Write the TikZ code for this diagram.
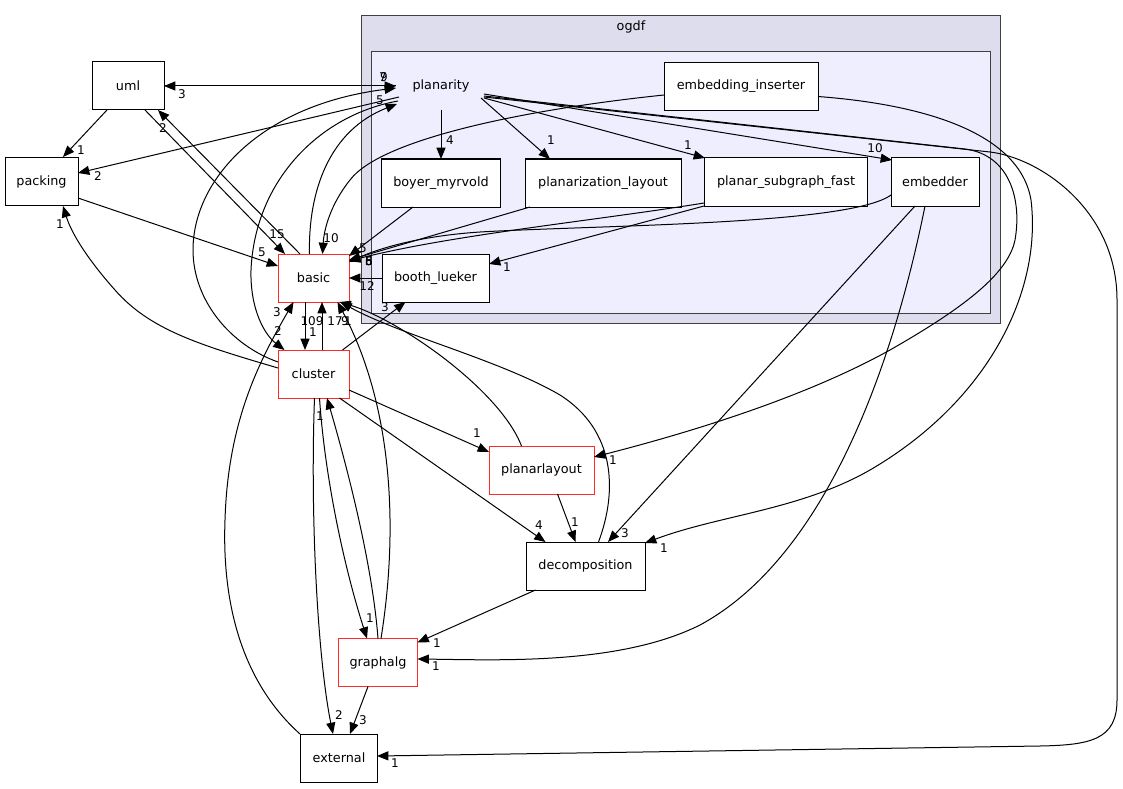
\documentclass[tikz,border=0pt]{standalone}
\usepackage{fontspec}
\setmainfont{DejaVu Sans}
\usetikzlibrary{arrows.meta, calc}
\definecolor{ogdfbg}{HTML}{DDDDEE}
\definecolor{planbg}{HTML}{EEEEFF}
\definecolor{frame}{HTML}{404040}
\definecolor{hotdir}{HTML}{FF2A2A}

\begin{document}
\begin{tikzpicture}[
  x=0.75pt, y=-0.75pt,
  >={Triangle[length=8.5pt, width=6.8pt]},
  every node/.style={font=\fontsize{9.6}{11}\selectfont},
  dirbox/.style={draw=black, fill=white, line width=0.75pt, inner sep=0pt,
                 minimum width=#1*0.75pt, minimum height=36pt},
  hotbox/.style={dirbox=#1, draw=hotdir},
  dep/.style={->, line width=0.75pt, color=black},
  cnt/.style={inner sep=0pt, font=\fontsize{9}{10}\selectfont}
]
  \useasboundingbox (0,0) rectangle (1123,788);

  % directory frames
  \draw[frame, fill=ogdfbg, line width=0.75pt] (361,16) rectangle (1000,323);
  \node (ogdf) at (631,27) {ogdf};
  \draw[frame, fill=planbg, line width=0.75pt] (371,52) rectangle (990,313);

  \node[minimum width=64.5pt, minimum height=36pt] (planarity) at (441,86) {planarity};
  \node[dirbox=154] (embins) at (741,86.5) {embedding\_inserter};
  \node[dirbox=119] (boyer) at (441,183) {boyer\_myrvold};
  \node[dirbox=156] (planz) at (603,183) {planarization\_layout};
  \node[dirbox=163] (psf) at (786,182) {planar\_subgraph\_fast};
  \node[dirbox=88] (embedder) at (935,182) {embedder};
  \node[dirbox=107] (booth) at (435.5,278) {booth\_lueker};

  \node[dirbox=72] (uml) at (128,86) {uml};
  \node[dirbox=73] (packing) at (41.5,181.5) {packing};
  \node[hotbox=71] (basic) at (313.5,278) {basic};
  \node[hotbox=71] (cluster) at (313.5,374) {cluster};
  \node[hotbox=105] (planarlayout) at (541.5,470) {planarlayout};
  \node[dirbox=119] (decomp) at (585.5,566) {decomposition};
  \node[hotbox=79] (graphalg) at (378,662.5) {graphalg};
  \node[dirbox=77] (external) at (339,758) {external};

  % uml, packing
  \draw[dep] ($(uml)+(-21,24)$) -- ($(packing)+(21.5,-24.5)$) node[cnt] at (81,150) {1};
  \draw[dep] ($(uml)+(17,24)$) -- ($(basic)+(-28.5,-24)$) node[cnt] at (277,234) {15};
  \draw[dep] ($(basic)+(-13.5,-24)$) -- ($(uml)+(30,24)$) node[cnt] at (163,128) {2};
  \draw[dep] ($(planarity)+(-45,0)$) -- ($(uml)+(36,0)$) node[cnt] at (182,94) {3};
  \draw[dep] ($(uml)+(36,0)$) -- ($(planarity)+(-45,0)$) node[cnt] at (383,77) {7};
  \draw[dep] ($(planarity)+(-42,11)$) -- ($(packing)+(36.5,-8.5)$) node[cnt] at (98,176) {2};
  \draw[dep] ($(packing)+(36.5,16.5)$) -- ($(basic)+(-35.5,-12)$) node[cnt] at (262,252) {5};
  \draw[dep] ($(cluster)+(-35.5,-6)$) .. controls (200,345) and (150,330) .. (115,290)
    .. controls (90,262) and (72,235) .. ($(packing)+(21.5,24.5)$) node[cnt] at (60,224) {1};

  % planarity, left side
  \draw[dep] ($(cluster)+(-35.5,-12)$) .. controls (230,345) and (193,300) .. (193,250)
    .. controls (193,180) and (260,105) .. ($(planarity)+(-45,2)$) node[cnt] at (384,77) {9};
  \draw[dep] ($(basic)+(-4,-24)$) .. controls (308,190) and (330,130) .. ($(planarity)+(-44,18)$)
    node[cnt] at (380,100) {5};
  \draw[dep] ($(planarity)+(-43,15)$) .. controls (320,115) and (255,180) .. (251,270)
    .. controls (250,310) and (265,335) .. ($(cluster)+(-29,-24)$) node[cnt] at (278,331) {2};

  % subdirectories
  \draw[dep] ($(planarity)+(0,24)$) -- ($(boyer)+(0,-24)$) node[cnt] at (450,140) {4};
  \draw[dep] ($(planarity)+(40,12)$) -- ($(planz)+(-53,-24)$) node[cnt] at (551,140) {1};
  \draw[dep] ($(planarity)+(43,12)$) -- ($(psf)+(-81,-24)$) node[cnt] at (688,145) {1};
  \draw[dep] ($(planarity)+(43,8)$) -- ($(embedder)+(-43,-22)$) node[cnt] at (875,148) {10};
  \draw[dep] ($(embins)+(-77,8.5)$) .. controls (520,110) and (380,140) .. (350,180)
    .. controls (330,205) and (324,230) .. ($(basic)+(9,-24)$) node[cnt] at (331,238) {10};
  \draw[dep] ($(boyer)+(-28,24)$) -- ($(basic)+(35.5,-22)$) node[cnt] at (363,248) {5};
  \draw[dep] ($(planz)+(-73,24)$) -- ($(basic)+(35.5,-18)$) node[cnt] at (369,261) {6};
  \draw[dep] ($(psf)+(-82,21)$) .. controls (600,220) and (450,235) .. ($(basic)+(35.5,-17)$)
    node[cnt] at (369,261) {8};
  \draw[dep] ($(embedder)+(-44,13)$) .. controls (850,225) and (600,225) .. (480,232)
    .. controls (420,236) and (380,248) .. ($(basic)+(35.5,-16)$) node[cnt] at (369,261) {5};
  \draw[dep] ($(psf)+(-82,24)$) -- ($(booth)+(53.5,-14)$) node[cnt] at (507,267) {1};
  \draw[dep] ($(booth)+(-53.5,0)$) -- ($(basic)+(35.5,0)$) node[cnt] at (367,286) {12};
  \draw[dep] ($(cluster)+(29,-24)$) -- ($(booth)+(-30,24)$) node[cnt] at (385,307) {3};

  % basic and cluster
  \draw[dep] ($(basic)+(-8.5,24)$) -- ($(cluster)+(-8.5,-24)$) node[cnt] at (313,332) {1};
  \draw[dep] ($(cluster)+(8.5,-24)$) -- ($(basic)+(8.5,24)$) node[cnt] at (312,321) {109};
  \draw[dep] ($(graphalg)+(3,-24)$) .. controls (400,520) and (390,400) .. ($(basic)+(24,24)$)
    node[cnt] at (335,321) {17};
  \draw[dep] ($(planarlayout)+(-20,-24)$) .. controls (500,390) and (400,320) .. ($(basic)+(26,24)$)
    node[cnt] at (348,321) {1};
  \draw[dep] ($(decomp)+(13,-24)$) .. controls (618,490) and (615,430) .. (560,395)
    .. controls (500,360) and (400,335) .. ($(basic)+(27,24)$) node[cnt] at (345,321) {9};
  \draw[dep] ($(external)+(-39,-24)$) .. controls (240,680) and (222,600) .. (225,520)
    .. controls (228,420) and (260,360) .. ($(basic)+(-20,24)$) node[cnt] at (277,312) {3};

  % cluster outgoing
  \draw[dep] ($(cluster)+(35.5,16)$) -- ($(planarlayout)+(-52.5,-18)$) node[cnt] at (477,433) {1};
  \draw[dep] ($(cluster)+(26,24)$) -- ($(decomp)+(-40,-24)$) node[cnt] at (539,525) {4};
  \draw[dep] ($(cluster)+(6,24)$) .. controls (325,480) and (345,570) .. ($(graphalg)+(-11,-24)$)
    node[cnt] at (370,618) {1};
  \draw[dep] ($(graphalg)+(0,-24)$) .. controls (372,560) and (345,460) .. ($(cluster)+(13.5,24)$)
    node[cnt] at (320,416) {1};
  \draw[dep] ($(cluster)+(1,24)$) .. controls (310,520) and (318,660) .. ($(external)+(-6,-24)$)
    node[cnt] at (339,715) {2};
  \draw[dep] ($(graphalg)+(-10,24)$) -- ($(external)+(11,-24)$) node[cnt] at (363,720) {3};

  % lower right
  \draw[dep] ($(planarlayout)+(16,24)$) -- ($(decomp)+(-10,-24)$) node[cnt] at (575,522) {1};
  \draw[dep] ($(decomp)+(-50,24)$) -- ($(graphalg)+(39.5,-20)$) node[cnt] at (437,643) {1};
  \draw[dep] ($(embedder)+(-20,24)$) -- ($(decomp)+(22.5,-24)$) node[cnt] at (625,533) {3};
  \draw[dep] ($(embedder)+(-10,24)$) .. controls (890,380) and (820,560) .. (700,625)
    .. controls (620,665) and (500,660) .. ($(graphalg)+(39.5,-3.5)$) node[cnt] at (436,666) {1};

  % long right-hand edges
  \draw[dep] ($(planarity)+(43,10)$) -- (965,149) .. controls (1010,155) and (1022,200) .. (1015,240)
    .. controls (1008,275) and (960,310) .. (890,350)
    .. controls (800,400) and (680,435) .. ($(planarlayout)+(52.5,-13)$) node[cnt] at (613,460) {1};
  \draw[dep] ($(embins)+(77,10)$) .. controls (930,105) and (1020,135) .. (1031,200)
    .. controls (1042,290) and (990,400) .. (870,470)
    .. controls (800,510) and (720,515) .. ($(decomp)+(59.5,-23)$) node[cnt] at (664,548) {1};
  \draw[dep] ($(planarity)+(43,11)$) -- (990,152) .. controls (1040,158) and (1117,210) .. (1117,300)
    -- (1117,700) .. controls (1117,740) and (1090,745) .. (1040,746)
    -- ($(external)+(38,-2)$) node[cnt] at (395,763) {1};
\end{tikzpicture}
\end{document}
